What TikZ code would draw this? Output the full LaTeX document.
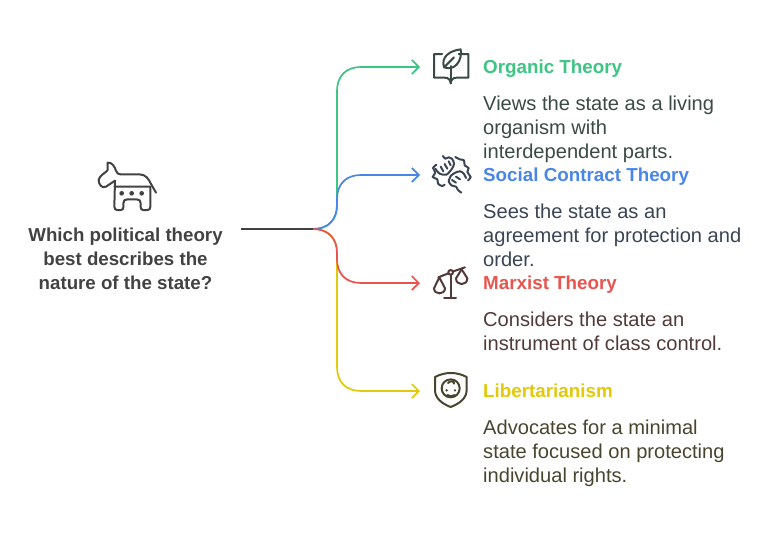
\documentclass[tikz,border=0pt]{standalone}
\usepackage{fontspec}
\setmainfont{Liberation Sans}
\usetikzlibrary{arrows.meta,positioning}
\definecolor{organicc}{HTML}{3CC583}
\definecolor{socialc}{HTML}{4A86E8}
\definecolor{marxc}{HTML}{E8554E}
\definecolor{libc}{HTML}{E2C909}
\definecolor{organict}{HTML}{3A4A45}
\definecolor{socialt}{HTML}{3A4454}
\definecolor{marxt}{HTML}{523A3A}
\definecolor{libt}{HTML}{48452F}
\definecolor{rootc}{HTML}{424242}
\tikzset{
	branch/.style={line width=1.7pt},
	tip/.style={-{Straight Barb[length=7pt,width=14pt,line width=1.7pt]}},
	head/.style={font=\fontsize{18.8}{24}\bfseries\selectfont,inner sep=0pt,anchor=base west},
	body/.style={font=\fontsize{20.1}{24}\selectfont,align=left,inner sep=0pt,anchor=north west},
	icon/.style={line width=2pt,line cap=round,line join=round}
}
\begin{document}
\begin{tikzpicture}[x=1pt,y=-1pt]
	\useasboundingbox (0,0) rectangle (782,536);
	% question
	\node[font=\fontsize{18.7}{24}\bfseries\selectfont,align=center,text=rootc,inner sep=0pt] (question) at (125.5,259) {Which political theory\\best describes the\\nature of the state?};
	\coordinate (start) at (241,229);
	\coordinate (hub) at (313,229);
	% branch labels
	\node[head,text=organicc] (organic) at (483,73.3) {\strut Organic Theory};
	\node[body,text=organict,below=15pt of organic.south west,anchor=north west] (organicbody) {Views the state as a living\\organism with\\interdependent parts.};
	\node[head,text=socialc] (social) at (483,181.3) {\strut Social Contract Theory};
	\node[body,text=socialt,below=15pt of social.south west,anchor=north west] (socialbody) {Sees the state as an\\agreement for protection and\\order.};
	\node[head,text=marxc] (marxist) at (483,289.3) {\strut Marxist Theory};
	\node[body,text=marxt,below=15pt of marxist.south west,anchor=north west] (marxistbody) {Considers the state an\\instrument of class control.};
	\node[head,text=libc] (liber) at (483,397.3) {\strut Libertarianism};
	\node[body,text=libt,below=15pt of liber.south west,anchor=north west] (liberbody) {Advocates for a minimal\\state focused on protecting\\individual rights.};
	% arrow ends
	\coordinate (organicend) at (420,67);
	\coordinate (socialend) at (420,175);
	\coordinate (marxistend) at (420,283);
	\coordinate (liberend) at (420,391);
	% connectors
	\draw[branch,tip,organicc] (hub) .. controls (328,229) and (337,220) .. (337,205) -- (337,91) .. controls (337,76) and (346,67) .. (361,67) -- (organicend);
	\draw[branch,tip,libc] (hub) .. controls (328,229) and (337,238) .. (337,253) -- (337,367) .. controls (337,382) and (346,391) .. (361,391) -- (liberend);
	\draw[branch,tip,socialc] (hub) .. controls (328,229) and (337,220) .. (337,205) -- (337,199) .. controls (337,184) and (346,175) .. (361,175) -- (socialend);
	\draw[branch,tip,marxc] (hub) .. controls (328,229) and (337,238) .. (337,253) -- (337,259) .. controls (337,274) and (346,283) .. (361,283) -- (marxistend);
	\draw[branch,rootc] (start) -- (hub);
	% donkey
	\begin{scope}[shift={(80,150)},scale=1/3,icon,rootc]
		\draw (105,92) -- (78,110) .. controls (66,116) and (56,104) .. (56,90) .. controls (58,76) and (76,70) .. (83,60) -- (83,38) .. controls (96,36) and (104,50) .. (108,62) .. controls (111,70) and (114,73) .. (122,73) -- (178,73) .. controls (198,73) and (206,88) .. (212,100) -- (228,128);
		\draw (105,92) -- (103,170) .. controls (103,177) and (106,180) .. (112,180) -- (122,180) .. controls (128,180) and (130,177) .. (130,172) -- (130,160) .. controls (130,152) and (134,148) .. (142,148) -- (170,148) .. controls (178,148) and (182,152) .. (182,160) -- (182,172) .. controls (182,177) and (185,180) .. (190,180) -- (202,180) .. controls (208,180) and (211,177) .. (211,170) -- (211,110) -- (103,110);
		\fill (125,130) circle (7) (155,130) circle (7) (185,130) circle (7);
	\end{scope}
	% book and leaf
	\begin{scope}[shift={(420,40)},scale=1/3,icon,organict]
		\draw (66,42) -- (42,42) -- (42,113) -- (74,113) .. controls (86,113) and (91,120) .. (92,130) .. controls (93,120) and (98,113) .. (110,113) -- (145,113) -- (145,42) -- (116,42);
		\draw (92,130) -- (92,78);
		\draw (72,82) .. controls (62,50) and (90,32) .. (122,28) .. controls (128,60) and (105,95) .. (72,82) -- (102,52);
	\end{scope}
	% clasped hands
	\begin{scope}[shift={(428,152)},scale=1/3,icon,socialt]
		\draw plot[smooth,tension=.5] coordinates {(45,12) (52,20) (62,16) (72,20) (78,35) (72,50) (55,68) (35,65) (22,50)};
		\draw (38,44) -- (46,58) (50,36) -- (58,50) (62,28) -- (68,40);
		\draw plot[smooth,tension=.5] coordinates {(82,15) (95,22) (108,25) (110,40) (122,48) (118,60) (128,75) (120,85)};
		\draw plot[smooth,tension=.5] coordinates {(62,88) (68,72) (82,62) (97,58) (108,66) (114,78)};
		\draw (72,84) -- (84,92) (84,74) -- (96,82);
		\draw plot[smooth,tension=.5] coordinates {(62,88) (70,100) (84,104) (90,114) (100,122)};
		\draw plot[smooth,tension=.5] coordinates {(25,38) (15,48) (22,62) (14,75) (28,82) (30,95) (42,102) (50,98)};
	\end{scope}
	% scales
	\begin{scope}[shift={(420,260)},scale=1/3,icon,marxt]
		\draw (55,52) -- (85,40) (100,34) -- (135,22);
		\draw (92,37) circle (7);
		\draw (92,44) -- (92,113) (72,113) -- (108,113);
		\draw (42,85) -- (58,52) -- (75,85) .. controls (75,105) and (42,105) .. (42,85) -- cycle;
		\draw (108,55) -- (125,28) -- (142,55) .. controls (142,78) and (108,78) .. (108,55) -- cycle;
	\end{scope}
	% shield and face
	\begin{scope}[shift={(420,365)},scale=1/3,icon,libt]
		\draw (45,36) .. controls (75,20) and (110,20) .. (140,36) -- (140,75) .. controls (140,100) and (118,116) .. (92,126) .. controls (66,116) and (45,100) .. (45,75) -- cycle;
		\draw (92,70) circle (27);
		\draw (84,54) .. controls (90,46) and (104,48) .. (102,56);
		\draw (82,90) .. controls (88,95) and (98,95) .. (104,90);
		\fill (80,76) circle (4) (105,76) circle (4);
	\end{scope}
\end{tikzpicture}
\end{document}
